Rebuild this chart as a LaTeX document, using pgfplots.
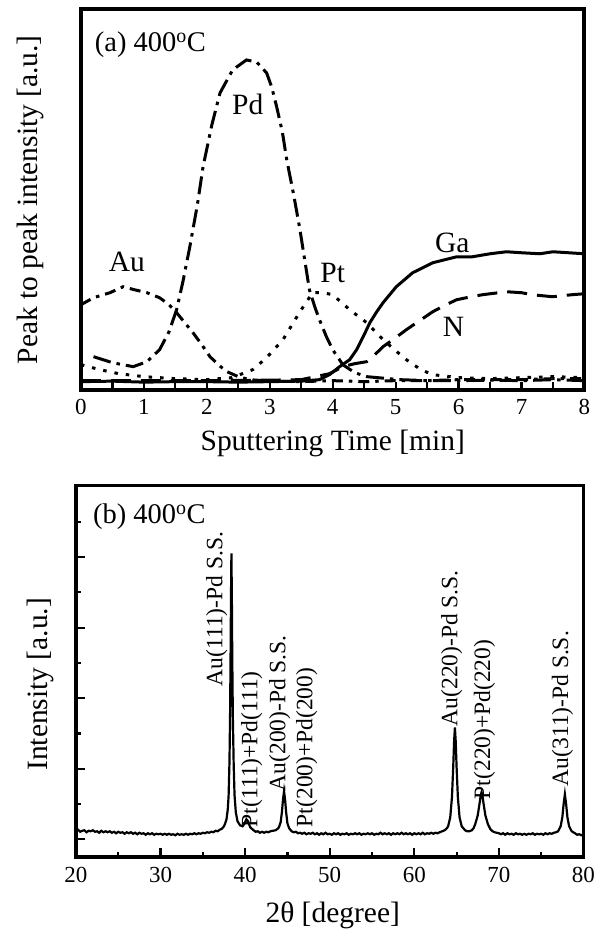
\documentclass[border=0pt]{standalone}
\usepackage{pgfplots}
\pgfplotsset{compat=1.18}
\usepackage{fontspec}
\setmainfont{Liberation Serif}
\begin{document}
\begin{tikzpicture}[x=1pt,y=1pt]
\path (0,0) rectangle (600,932);
% ---------------- (a) AES depth profile ----------------
\begin{axis}[
  at={(81pt,542pt)}, anchor=south west, scale only axis,
  width=504pt, height=381pt,
  xmin=0, xmax=8, ymin=0, ymax=381,
  xtick={0,1,...,8}, minor x tick num=1, ytick=\empty,
  xtick pos=left, tick align=inside,
  major tick length=8pt, minor tick length=8pt,
  tick style={line width=2.2pt, black},
  axis line style={line width=4pt},
  /pgf/number format/assume math mode=true,
  ticklabel style={font=\fontsize{23}{27}\selectfont},
  xticklabel style={yshift=-6pt},
  clip=false,
]
% Ga (solid)
\addplot[black, line width=3pt] coordinates {
(0,8) (0.5,8.5) (1,7.5) (1.5,8) (2,8) (2.5,7.5) (3,8) (3.5,8.5) (3.79,10) (3.95,15) (4.11,23) (4.27,30) (4.38,40) (4.5,55) (4.59,67) (4.7,78) (4.8,87) (5.01,103) (5.27,117) (5.59,127) (5.97,133) (6.22,133) (6.5,136) (6.76,138) (7.0,137) (7.29,136) (7.5,138) (8,136)};
% N (dashed)
\addplot[black, line width=3pt, dash pattern=on 20pt off 10pt] coordinates {
(0,9) (1,9) (2,9) (3,9.5) (3.5,10) (3.95,16) (4.16,23) (4.35,26) (4.54,28) (4.67,35) (4.8,43) (5.0,52) (5.17,60) (5.38,69) (5.59,78) (5.8,85) (5.97,90) (6.2,93) (6.38,95) (6.76,98) (7.0,97) (7.17,95) (7.49,93) (7.8,95) (8,96)};
% Pd (long dash - dot)
\addplot[black, line width=3pt, dash pattern=on 18pt off 6pt on 3.5pt off 6pt] coordinates {
(0.2,33) (0.5,27) (0.83,23) (1.05,28) (1.25,40) (1.4,58) (1.52,80) (1.62,108) (1.73,143) (1.85,185) (1.94,223) (2.08,265) (2.21,297) (2.41,320) (2.63,330) (2.79,328) (2.95,317) (3.03,303) (3.11,283) (3.2,258) (3.27,230) (3.38,195) (3.48,160) (3.56,128) (3.63,100) (3.72,82) (3.79,70) (3.9,53) (4.0,40) (4.16,25) (4.35,17) (4.54,13) (5.06,10) (5.5,9) (6,9) (6.5,9.5) (7,9) (7.5,10) (8,9)};
% Au (short dash - dot)
\addplot[black, line width=3pt, dash pattern=on 11pt off 6pt on 3.5pt off 6pt] coordinates {
(0,85) (0.2,92) (0.46,97) (0.67,103) (0.85,100) (1.05,97) (1.25,92) (1.4,85) (1.52,77) (1.65,67) (1.78,57) (1.92,45) (2.05,33) (2.2,24) (2.32,18) (2.5,13) (2.68,10) (3.0,8.5) (3.5,8) (4,9) (4.5,8) (5,9) (5.5,9) (6,10) (6.5,10) (7,10) (7.5,11) (8,11)};
% Pt (dotted)
\addplot[black, line width=3pt, dash pattern=on 3.5pt off 8pt] coordinates {
(0,25) (0.3,20) (0.6,16) (1.0,13) (1.5,11) (2.0,10) (2.4,12) (2.73,20) (2.95,32) (3.21,50) (3.48,78) (3.68,97) (3.85,97) (4.0,95) (4.27,80) (4.54,67) (4.8,50) (5.0,39) (5.17,30) (5.4,20) (5.59,15) (6.0,12) (6.5,11) (7,12) (7.5,13) (8,12)};
\node[anchor=west, inner sep=0, font=\fontsize{28.5}{32}\selectfont] at (axis cs:0.22,345) {(a) 400\textsuperscript{o}C};
\node[font=\fontsize{29.5}{33}\selectfont] at (axis cs:2.65,285) {Pd};
\node[font=\fontsize{29.5}{33}\selectfont] at (axis cs:0.73,128) {Au};
\node[font=\fontsize{29.5}{33}\selectfont] at (axis cs:4.0,117) {Pt};
\node[font=\fontsize{29.5}{33}\selectfont] at (axis cs:5.9,147) {Ga};
\node[font=\fontsize{29.5}{33}\selectfont] at (axis cs:5.92,63) {N};
\end{axis}
\node[rotate=90, font=\fontsize{29.5}{34}\selectfont] at (30,732) {Peak to peak intensity [a.u.]};
\node[font=\fontsize{29.5}{34}\selectfont] at (333,488) {Sputtering Time [min]};
% ---------------- (b) XRD ----------------
\begin{axis}[
  at={(76pt,74pt)}, anchor=south west, scale only axis,
  width=508pt, height=372pt,
  xmin=20, xmax=80, ymin=0, ymax=372,
  xtick={20,30,...,80}, minor xtick={25,35,...,75},
  ytick={18,88.6,159.2,229.8,300.4}, yticklabels={},
  minor ytick={53.3,123.9,194.5,265.1,335.7},
  xtick pos=left, ytick pos=left, tick align=inside,
  major tick length=9pt, minor tick length=5.5pt,
  tick style={line width=2.2pt, black},
  axis line style={line width=3.5pt},
  /pgf/number format/assume math mode=true,
  ticklabel style={font=\fontsize{23}{27}\selectfont},
  xticklabel style={yshift=-6pt},
  clip=false,
]
\addplot[black, line width=2.2pt] coordinates {
(20.00,26) (20.25,27.5) (20.50,25.5) (20.75,26.5) (21.00,27) (21.25,25) (21.50,26.5) (21.75,26) (22.00,27) (22.25,25.5) (22.50,26) (22.75,24.5) (23.00,26.5) (23.25,25) (23.50,26) (23.75,25) (24.00,26) (24.25,24.5) (24.50,25.5) (24.75,24) (25.00,25.5) (25.25,24.5) (25.50,25) (25.75,23.5) (26.00,25) (26.25,24) (26.50,25) (26.75,23.5) (27.00,24.5) (27.25,23) (27.50,24.5) (27.75,23.5) (28.00,24) (28.25,22.5) (28.50,24) (28.75,23) (29.00,24) (29.25,22.5) (29.50,23.5) (29.75,23) (30.00,23.5) (30.25,22.5) (30.50,23.5) (30.75,22.5) (31.00,23.5) (31.25,22.5) (31.50,23) (31.75,22) (32.00,23.5) (32.25,22.5) (32.50,23) (32.75,22.5) (33.00,23.5) (33.25,22.5) (33.50,23.5) (33.75,23) (34.00,24) (34.25,23) (34.50,24) (34.75,23.5) (35.00,24.5) (35.25,24) (35.50,25) (35.75,24.5) (36.00,25.5) (36.25,25) (36.50,26.5) (36.75,26) (37.00,27.5) (37.25,28.5) (37.50,31) (37.65,34) (37.8,38) (37.95,48) (38.05,62) (38.15,95) (38.22,140) (38.28,200) (38.33,260) (38.38,304) (38.43,262) (38.48,200) (38.55,140) (38.65,92) (38.75,62) (38.9,45) (39.1,36) (39.4,32) (39.7,31) (39.95,34) (40.15,38) (40.35,36) (40.6,30) (41.0,27) (41.25,25.5) (41.5,26) (41.75,24.5) (42.0,25.5) (42.25,24.5) (42.5,25.5) (42.75,25) (43.0,26) (43.3,26.5) (43.6,27) (43.85,28.5) (44.0,30) (44.2,35) (44.35,45) (44.48,58) (44.6,66) (44.72,58) (44.85,45) (45.0,34) (45.2,29) (45.5,26) (45.75,25) (46.0,25.5) (46.25,24) (46.50,24.5) (46.75,23.5) (47.00,24.5) (47.25,23) (47.50,24) (47.75,23.5) (48.00,24.5) (48.25,23) (48.50,24) (48.75,22.5) (49.00,24) (49.25,23) (49.50,24.5) (49.75,23) (50.00,23.5) (50.25,22.5) (50.50,24) (50.75,23) (51.00,24) (51.25,22.5) (51.50,23.5) (51.75,23) (52.00,24) (52.25,22.5) (52.50,23.5) (52.75,23) (53.00,24) (53.25,23) (53.50,24) (53.75,22.5) (54.00,23.5) (54.25,23) (54.50,24) (54.75,23) (55.00,24) (55.25,22.5) (55.50,23.5) (55.75,23) (56.00,24.5) (56.25,23) (56.50,24) (56.75,23) (57.00,24) (57.25,22.5) (57.50,24) (57.75,23) (58.00,24) (58.25,23) (58.50,24.5) (58.75,23) (59.00,24) (59.25,23) (59.50,24) (59.75,22.5) (60.00,24) (60.25,23) (60.50,24) (60.75,23) (61.00,24.5) (61.25,23) (61.50,24) (61.75,23.5) (62.00,24.5) (62.25,23.5) (62.50,24.5) (62.75,24) (63.00,25) (63.3,26) (63.6,27) (63.85,29) (64.0,31) (64.25,40) (64.45,60) (64.6,90) (64.7,115) (64.8,130) (64.9,115) (65.0,90) (65.15,60) (65.35,40) (65.6,31) (66.0,27) (66.25,26) (66.5,26) (66.8,27) (67.0,29) (67.2,33) (67.5,42) (67.7,53) (67.85,62) (67.95,65) (68.05,62) (68.2,53) (68.4,42) (68.7,33) (69.0,28) (69.25,26) (69.5,25) (69.75,24.5) (70.00,24) (70.25,23) (70.50,24) (70.75,22.5) (71.00,24) (71.25,23) (71.50,23.5) (71.75,22.5) (72.00,24) (72.25,23) (72.50,23.5) (72.75,22.5) (73.00,23.5) (73.25,22.5) (73.50,23.5) (73.75,23) (74.00,24) (74.25,22.5) (74.50,23.5) (74.75,23) (75.00,23.5) (75.25,22.5) (75.50,24) (75.75,23) (76.00,24) (76.25,23.5) (76.50,24.5) (76.75,25) (77.0,26) (77.3,31) (77.5,40) (77.65,53) (77.8,63) (77.95,53) (78.1,40) (78.3,31) (78.6,26) (78.8,25) (79.0,24) (79.25,22.5) (79.5,23) (79.75,22) (80,22.5)};
\begin{scope}[every node/.style={rotate=90, anchor=west, inner sep=0, font=\fontsize{23.5}{28}\selectfont}]
\node at (axis cs:36.65,171) {Au(111)-Pd S.S.};
\node at (axis cs:40.79,30) {Pt(111)+Pd(111)};
\node at (axis cs:44.09,66) {Au(200)-Pd S.S.};
\node at (axis cs:47.28,30) {Pt(200)+Pd(200)};
\node at (axis cs:64.41,131) {Au(220)-Pd S.S.};
\node at (axis cs:68.31,58) {Pt(220)+Pd(220)};
\node at (axis cs:77.52,71) {Au(311)-Pd S.S.};
\end{scope}
\node[anchor=west, inner sep=0, font=\fontsize{28.5}{32}\selectfont] at (axis cs:22.0,341) {(b) 400\textsuperscript{o}C};
\end{axis}
\node[rotate=90, font=\fontsize{29.5}{34}\selectfont] at (40,247) {Intensity [a.u.]};
\node[font=\fontsize{29.5}{34}\selectfont] at (333,16) {2θ [degree]};
\end{tikzpicture}
\end{document}
